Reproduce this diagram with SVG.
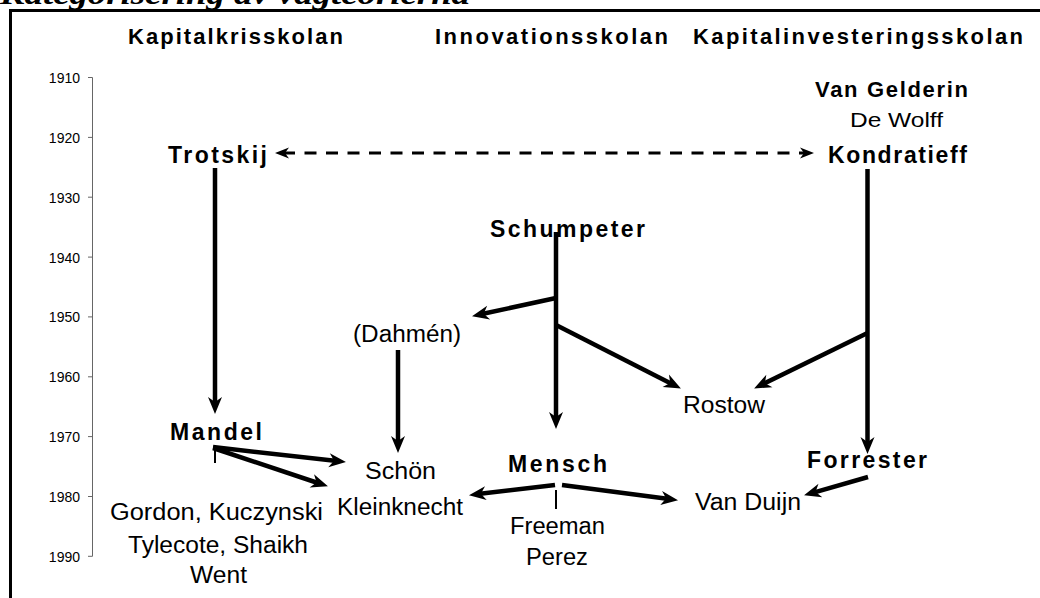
<svg xmlns="http://www.w3.org/2000/svg" width="1040" height="598" viewBox="0 0 1040 598">
<style>
text{font-family:"Liberation Sans",Arial,sans-serif;fill:#000}
.b{font-weight:bold;font-size:23px}
.h{font-weight:bold;font-size:22px}
.r{font-size:23px}
.y{font-size:14px;text-anchor:end}
.t{font-family:"Liberation Serif","Times New Roman",serif;font-weight:bold;font-style:italic;font-size:30px}
.c{stroke:#000;stroke-width:4.5;fill:none}
.d{stroke:#000;stroke-width:3;fill:none;stroke-dasharray:12 9.5}
.s{stroke:#000;stroke-width:2}
</style>
<defs>
<marker id="ah" markerUnits="userSpaceOnUse" markerWidth="17" markerHeight="14" refX="8" refY="7" orient="auto" overflow="visible">
<path d="M0,0 L17,7 L0,14 L5,7 Z" fill="#000"/>
</marker>
<marker id="dh" markerUnits="userSpaceOnUse" markerWidth="14" markerHeight="11" refX="6" refY="5.5" orient="auto-start-reverse" overflow="visible">
<path d="M0,0 L14,5.5 L0,11 L4,5.5 Z" fill="#000"/>
</marker>
</defs>
<rect width="1040" height="598" fill="#fff"/>
<text class="t" x="0" y="3.5" textLength="470" lengthAdjust="spacingAndGlyphs">Kategorisering av vågteorierna</text>
<g id="frame" stroke="#000" stroke-width="3">
<line x1="9" y1="10.5" x2="1040" y2="10.5"/>
<line x1="10.5" y1="9" x2="10.5" y2="598"/>
</g>
<g id="axis">
<g stroke="#666" stroke-width="1">
<line x1="92.5" y1="77.5" x2="92.5" y2="556.3"/>
<line x1="88" y1="77.5" x2="92.5" y2="77.5"/>
<line x1="88" y1="137.4" x2="92.5" y2="137.4"/>
<line x1="88" y1="197.2" x2="92.5" y2="197.2"/>
<line x1="88" y1="257.1" x2="92.5" y2="257.1"/>
<line x1="88" y1="316.9" x2="92.5" y2="316.9"/>
<line x1="88" y1="376.8" x2="92.5" y2="376.8"/>
<line x1="88" y1="436.6" x2="92.5" y2="436.6"/>
<line x1="88" y1="496.5" x2="92.5" y2="496.5"/>
<line x1="88" y1="556.3" x2="92.5" y2="556.3"/>
</g>
<text class="y" x="80" y="82.5">1910</text>
<text class="y" x="80" y="142.5">1920</text>
<text class="y" x="80" y="202.5">1930</text>
<text class="y" x="80" y="262.5">1940</text>
<text class="y" x="80" y="322">1950</text>
<text class="y" x="80" y="382">1960</text>
<text class="y" x="80" y="442">1970</text>
<text class="y" x="80" y="502">1980</text>
<text class="y" x="80" y="561.5">1990</text>
</g>
<g id="headers">
<text class="h" x="128" y="44" textLength="215" lengthAdjust="spacing">Kapitalkrisskolan</text>
<text class="h" x="435" y="44" textLength="233" lengthAdjust="spacing">Innovationsskolan</text>
<text class="h" x="693" y="44" textLength="330" lengthAdjust="spacing">Kapitalinvesteringsskolan</text>
</g>
<g id="n-vangelderin"><text class="h" x="815" y="96.5" textLength="153" lengthAdjust="spacing">Van Gelderin</text></g>
<g id="n-dewolff"><text class="r" style="font-size:20px" x="850" y="127" textLength="93" lengthAdjust="spacingAndGlyphs">De Wolff</text></g>
<g id="n-trotskij"><text class="b" x="168" y="163" textLength="99" lengthAdjust="spacing">Trotskij</text></g>
<g id="n-kondratieff"><text class="b" x="828" y="163" textLength="139" lengthAdjust="spacing">Kondratieff</text></g>
<g id="n-schumpeter"><text class="b" x="490" y="237" textLength="155" lengthAdjust="spacing">Schumpeter</text></g>
<g id="n-dahmen"><text class="r" x="353" y="342" textLength="108" lengthAdjust="spacingAndGlyphs">(Dahmén)</text></g>
<g id="n-rostow"><text class="r" x="683" y="413" textLength="82" lengthAdjust="spacingAndGlyphs">Rostow</text></g>
<g id="n-mandel"><text class="b" x="170" y="440" textLength="92" lengthAdjust="spacing">Mandel</text></g>
<g id="n-schon"><text class="r" x="365" y="479" textLength="71" lengthAdjust="spacingAndGlyphs">Schön</text>
<text class="r" x="337" y="515" textLength="126" lengthAdjust="spacingAndGlyphs">Kleinknecht</text></g>
<g id="n-mensch"><text class="b" x="508" y="472" textLength="99" lengthAdjust="spacing">Mensch</text></g>
<g id="n-freeman"><text class="r" x="510" y="534" textLength="95" lengthAdjust="spacingAndGlyphs">Freeman</text>
<text class="r" x="526" y="565" textLength="62" lengthAdjust="spacingAndGlyphs">Perez</text></g>
<g id="n-forrester"><text class="b" x="807" y="468" textLength="120" lengthAdjust="spacing">Forrester</text></g>
<g id="n-vanduijn"><text class="r" x="695" y="510" textLength="106" lengthAdjust="spacingAndGlyphs">Van Duijn</text></g>
<g id="n-gordon"><text class="r" x="110" y="520" textLength="213" lengthAdjust="spacingAndGlyphs">Gordon, Kuczynski</text>
<text class="r" x="128" y="553" textLength="180" lengthAdjust="spacingAndGlyphs">Tylecote, Shaikh</text>
<text class="r" x="190" y="583" textLength="57" lengthAdjust="spacingAndGlyphs">Went</text></g>
<g id="connectors">
<line class="d" x1="283" y1="153" x2="806" y2="153" marker-start="url(#dh)" marker-end="url(#dh)"/>
<line class="c" x1="215" y1="168" x2="215" y2="405" marker-end="url(#ah)"/>
<line class="c" x1="867.5" y1="169" x2="867.5" y2="445" marker-end="url(#ah)"/>
<line class="c" x1="867.5" y1="333" x2="762.2" y2="384.5" marker-end="url(#ah)"/>
<line class="c" x1="556" y1="232" x2="556" y2="420" marker-end="url(#ah)"/>
<line class="c" x1="556" y1="298" x2="480.8" y2="314.3" marker-end="url(#ah)"/>
<line class="c" x1="556" y1="325" x2="672.9" y2="384.4" marker-end="url(#ah)"/>
<line class="c" x1="398" y1="350" x2="398" y2="444" marker-end="url(#ah)"/>
<line class="c" x1="213" y1="447" x2="337" y2="461.1" marker-end="url(#ah)"/>
<line class="c" x1="213" y1="448" x2="319.4" y2="483.5" marker-end="url(#ah)"/>
<line class="c" x1="555" y1="485" x2="477.9" y2="494.1" marker-end="url(#ah)"/>
<line class="c" x1="562" y1="485" x2="669.1" y2="499" marker-end="url(#ah)"/>
<line class="c" x1="868" y1="477" x2="812.7" y2="492.8" marker-end="url(#ah)"/>
<line class="s" x1="215" y1="445" x2="215" y2="463"/>
<line class="s" x1="556" y1="490" x2="556" y2="509"/>
</g>
</svg>
